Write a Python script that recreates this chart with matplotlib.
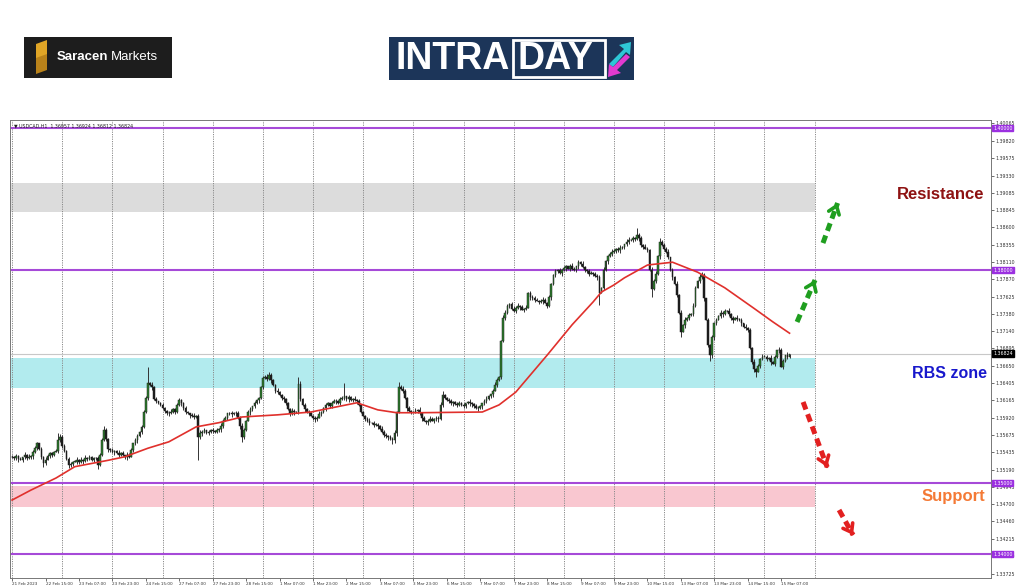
import matplotlib
matplotlib.use("Agg")
import matplotlib.pyplot as plt
from matplotlib.patches import Rectangle, Polygon

# USDCAD H1 - closes in pips above 1.35000, one per hourly bar
BASE = 1.35
PIP = 0.0001
first_open = 36
closes = [
    37, 35, 38, 34, 33, 36, 39, 35, 37, 38, 44, 50, 56, 48, 36, 28, 33, 38, 42, 40, 44, 45, 60, 65,
    52, 45, 34, 25, 27, 30, 30, 32, 29, 33, 31, 35, 34, 36, 33, 35, 35, 25, 40, 60, 75, 62, 48, 46,
    44, 45, 42, 40, 42, 39, 37, 40, 37, 47, 56, 60, 66, 72, 79, 100, 120, 141, 138, 135, 118, 115, 112, 110,
    105, 102, 98, 98, 100, 104, 100, 110, 117, 112, 105, 100, 98, 96, 95, 93, 95, 65, 70, 72, 74, 70, 72, 75,
    73, 72, 75, 76, 80, 88, 92, 98, 98, 97, 99, 98, 92, 80, 65, 75, 88, 100, 104, 108, 112, 117, 120, 135,
    148, 150, 147, 152, 145, 138, 130, 128, 124, 120, 118, 112, 104, 98, 101, 100, 100, 140, 118, 110, 104, 100, 98, 95,
    92, 90, 92, 97, 100, 105, 110, 112, 108, 113, 115, 116, 113, 118, 120, 122, 118, 121, 117, 119, 117, 115, 110, 100,
    95, 90, 88, 85, 84, 82, 82, 80, 76, 72, 68, 66, 65, 62, 60, 70, 100, 135, 132, 130, 120, 105, 102, 100,
    100, 102, 103, 98, 92, 88, 86, 88, 90, 88, 90, 92, 90, 110, 124, 120, 117, 115, 112, 114, 111, 110, 112, 110,
    108, 112, 114, 112, 111, 108, 105, 105, 108, 112, 115, 118, 122, 125, 130, 138, 145, 150, 200, 232, 240, 250, 252, 245,
    242, 247, 250, 248, 244, 245, 247, 268, 262, 260, 258, 257, 255, 256, 258, 254, 250, 262, 280, 293, 298, 300, 296, 300,
    303, 305, 302, 306, 302, 300, 305, 311, 308, 304, 300, 298, 295, 296, 294, 292, 290, 268, 275, 300, 312, 320, 323, 325,
    327, 330, 328, 331, 332, 336, 340, 342, 342, 345, 343, 350, 345, 335, 333, 330, 328, 300, 273, 285, 295, 320, 340, 335,
    330, 325, 318, 300, 290, 280, 265, 240, 213, 222, 230, 233, 236, 238, 250, 275, 285, 290, 293, 260, 230, 194, 180, 205,
    225, 230, 235, 240, 238, 242, 242, 238, 232, 230, 233, 231, 230, 225, 220, 218, 215, 190, 170, 160, 157, 165, 175, 178,
    178, 175, 176, 170, 168, 178, 187, 188, 164, 172, 180, 178, 182.4,
]
upper_wicks = ("213231424132213243121324" "231321242314132213241321" "312423132214312332142312"
               "221342123124213312423121" "213242312412324213314212" "324131242132214321423132"
               "132412321342132413213241" "213314221432123412342131" "231423124312341213421342"
               "312421342134212431243213" "423132412342134213214231" "321342132412431323142134"
               "213421342314231321423142" "324132413241324214231324" "231423142314231423142314"
               "2314231423140")
lower_wicks = ("132413221342312421342132" "312423132142312423121342" "241321342132413213241312"
               "132412321423142312342131" "321342132413241321423142" "213241321342132413214231"
               "342132413214231324132412" "132413242132412342131423" "213241342132413213241321"
               "321342131423124132413241" "132413214231324132413214" "241321342132413242132413"
               "132413241321423132413241" "213241324132413213241324" "321342132413241321342132"
               "1324132413242")
high_spikes = {22: 70, 44: 80, 65: 163, 123: 156, 137: 150, 159: 141, 185: 142,
               206: 130, 271: 314, 299: 359, 310: 345, 330: 297}
low_spikes = {15: 22, 41: 20, 89: 32, 110: 58, 182: 55, 281: 251, 306: 262,
              320: 205, 334: 172, 356: 149}

# 50-period moving average (red), read at a set of bars
ma_bars = [0, 9, 21, 30, 46, 54, 65, 75, 88, 99, 110, 127, 143, 165, 175, 184, 195,
           225, 233, 241, 256, 268, 278, 282, 288, 293, 304, 316, 328, 341, 355, 364, 372]
ma_pips = [-24, -10, 7, 23, 32, 37, 49, 58, 79, 85, 93, 96, 100, 113, 103, 99, 99,
           100, 110, 128, 180, 223, 255, 269, 279, 289, 307, 311, 297, 275, 246, 227, 211]

levels = [1.40000, 1.38000, 1.35000, 1.34000]
zone_lo = [1.38817, 1.36338, 1.34662]
zone_hi = [1.39225, 1.36761, 1.34958]
zone_colors = ["#dcdcdc", "#b2ebee", "#f9c7d0"]
last_price = 1.36824

price_ticks = [1.40065, 1.39820, 1.39575, 1.39330, 1.39085, 1.38845, 1.38600, 1.38355,
               1.38110, 1.37870, 1.37625, 1.37380, 1.37140, 1.36895, 1.36650, 1.36405,
               1.36165, 1.35920, 1.35675, 1.35435, 1.35190, 1.34945, 1.34700, 1.34460,
               1.34215, 1.33970, 1.33725]
date_labels = ["21 Feb 2023", "22 Feb 15:00", "23 Feb 07:00", "23 Feb 23:00", "24 Feb 15:00",
               "27 Feb 07:00", "27 Feb 23:00", "28 Feb 15:00", "1 Mar 07:00", "1 Mar 23:00",
               "2 Mar 15:00", "3 Mar 07:00", "3 Mar 23:00", "6 Mar 15:00", "7 Mar 07:00",
               "7 Mar 23:00", "8 Mar 15:00", "9 Mar 07:00", "9 Mar 23:00", "10 Mar 15:00",
               "13 Mar 07:00", "13 Mar 23:00", "14 Mar 15:00", "15 Mar 07:00"]

W, H = 1024, 587
fig = plt.figure(figsize=(W / 100, H / 100), dpi=100)
fig.patch.set_facecolor("white")
ax = fig.add_axes([10 / W, 9 / H, 981 / W, 458 / H])

n = len(closes)
bars = list(range(n))
opens = [first_open] + closes[:-1]
px = lambda v: BASE + v * PIP

# zones
for lo, hi, col in zip(zone_lo, zone_hi, zone_colors):
    ax.fill_between([-1, 384], lo, hi, color=col, lw=0, zorder=0)

# vertical dotted grid (one per day = 24 bars)
for g in range(0, 385, 24):
    ax.axvline(g, color="#8a8a8a", ls=(0, (1.2, 1.2)), lw=0.7, zorder=1)

# levels
for lv in levels:
    ax.axhline(lv, color="#a64ad8", lw=1.5, zorder=2)
    ax.text(1.002, lv, "%.5f" % lv, transform=ax.get_yaxis_transform(), fontsize=3.4,
            color="white", va="center", ha="left",
            bbox=dict(boxstyle="square,pad=0.2", fc="#9b30e0", ec="#9b30e0"), zorder=10)
ax.axhline(last_price, color="#c8c8c8", lw=0.8, zorder=2)
ax.text(1.002, last_price, "%.5f" % last_price, transform=ax.get_yaxis_transform(), fontsize=3.4,
        color="white", va="center", ha="left",
        bbox=dict(boxstyle="square,pad=0.2", fc="black", ec="black"), zorder=10)

# candles
for i in bars:
    o, c = opens[i], closes[i]
    hi = max(o, c) + int(upper_wicks[i])
    lo = min(o, c) - int(lower_wicks[i])
    hi = high_spikes.get(i, hi)
    lo = low_spikes.get(i, lo)
    ax.vlines(i, px(lo), px(hi), color="#333333", lw=0.7, zorder=3)
    col = "#2c7f2c" if c >= o else "#1c1c1c"
    h = max(abs(c - o), 0.5) * PIP
    ax.add_patch(Rectangle((i - 0.4, px(min(o, c))), 0.8, h, fc=col, ec="#1e1e1e",
                           lw=0.35, zorder=4))

# moving average
ax.plot(ma_bars, [px(v) for v in ma_pips], color="#e0302c", lw=1.2, zorder=5)

# dashed direction arrows
arrows = [((388, 1.38380), (395, 1.38944), "#1f9e1f"),
          ((375.6, 1.37268), (384.2, 1.37859), "#1f9e1f"),
          ((378.5, 1.36141), (390, 1.35225), "#e22020"),
          ((395.7, 1.34620), (402.4, 1.34268), "#e22020")]
for (x0, y0), (x1, y1), col in arrows:
    ax.plot([x0, x1], [y0, y1], color=col, lw=3.6, ls=(0, (1.6, 1.0)), solid_capstyle="butt", zorder=6)
    ax.annotate("", xy=(x1, y1), xytext=(x1 - (x1 - x0) * 0.05, y1 - (y1 - y0) * 0.05),
                arrowprops=dict(arrowstyle="->,head_length=0.55,head_width=0.4", color=col, lw=2.6),
                zorder=6)

ax.set_xlim(-1, 468.4)
ax.set_ylim(1.33662, 1.40113)

ax.yaxis.tick_right()
ax.set_yticks(price_ticks)
ax.set_yticklabels(["%.5f" % p for p in price_ticks])
ax.tick_params(axis="y", labelsize=3.4, length=2, width=0.5, pad=1.5, colors="#333333")
ax.set_xticks(range(0, 16 * len(date_labels), 16))
ax.set_xticklabels(date_labels, ha="left")
ax.tick_params(axis="x", labelsize=3.0, length=2, width=0.5, pad=1, colors="#333333")
for s in ax.spines.values():
    s.set_color("#777777")
    s.set_linewidth(0.7)

ax.text(0.004, 0.993, "\u25bc USDCAD,H1  1.36957 1.36924 1.36812 1.36824", transform=ax.transAxes,
        fontsize=3.4, va="top", ha="left", color="#222222")

# labels on the right
fig.text(941 / W, 1 - 195 / H, "Resistance", fontsize=12, fontweight="heavy",
         family="Liberation Sans", color="#8e1212", ha="center", va="center")
fig.text(950 / W, 1 - 374 / H, "RBS zone", fontsize=11.5, fontweight="heavy",
         family="Liberation Sans", color="#1818cc", ha="center", va="center")
fig.text(953 / W, 1 - 496 / H, "Support", fontsize=12, fontweight="heavy",
         family="Liberation Sans", color="#f47a36", ha="center", va="center")

# logos
fig.patches.append(Rectangle((24 / W, 1 - 78 / H), 148 / W, 41 / H, transform=fig.transFigure,
                             fc="#1d1d1d", ec="none"))
fig.patches.append(Polygon([(36 / W, 1 - 44 / H), (47 / W, 1 - 40 / H), (47 / W, 1 - 55 / H),
                            (36 / W, 1 - 59 / H)], closed=True, transform=fig.transFigure,
                           fc="#e0a526", ec="none"))
fig.patches.append(Polygon([(36 / W, 1 - 58 / H), (47 / W, 1 - 54 / H), (47 / W, 1 - 70 / H),
                            (36 / W, 1 - 74 / H)], closed=True, transform=fig.transFigure,
                           fc="#b9821a", ec="none"))
fig.text(57 / W, 1 - 57 / H, "Saracen", fontsize=9.5, fontweight="bold", family="Liberation Sans",
         color="white", va="center", ha="left")
fig.text(111 / W, 1 - 57 / H, "Markets", fontsize=9.5, family="Liberation Sans",
         color="white", va="center", ha="left")

fig.patches.append(Rectangle((389 / W, 1 - 80 / H), 245 / W, 43 / H, transform=fig.transFigure,
                             fc="#1c3559", ec="none"))
fig.text(396 / W, 1 - 59 / H, "INTRA", fontsize=27, fontweight="bold", family="Liberation Sans",
         color="white", va="center", ha="left")
fig.patches.append(Rectangle((513 / W, 1 - 77 / H), 92 / W, 37 / H, transform=fig.transFigure,
                             fc="none", ec="white", lw=2))
fig.text(517 / W, 1 - 59 / H, "DAY", fontsize=27, fontweight="bold", family="Liberation Sans",
         color="white", va="center", ha="left")
fig.patches.append(Polygon([(609 / W, 1 - 64 / H), (624 / W, 1 - 49 / H), (619 / W, 1 - 45 / H),
                            (631 / W, 1 - 42 / H), (630 / W, 1 - 55 / H), (626 / W, 1 - 52 / H),
                            (613 / W, 1 - 67 / H)], closed=True, transform=fig.transFigure,
                           fc="#2ec6d6", ec="none"))
fig.patches.append(Polygon([(630 / W, 1 - 57 / H), (617 / W, 1 - 70 / H), (621 / W, 1 - 73 / H),
                            (608 / W, 1 - 77 / H), (609 / W, 1 - 64 / H), (613 / W, 1 - 67 / H),
                            (626 / W, 1 - 54 / H)], closed=True, transform=fig.transFigure,
                           fc="#e23ad0", ec="none"))

fig.savefig("out.png", dpi=100)
